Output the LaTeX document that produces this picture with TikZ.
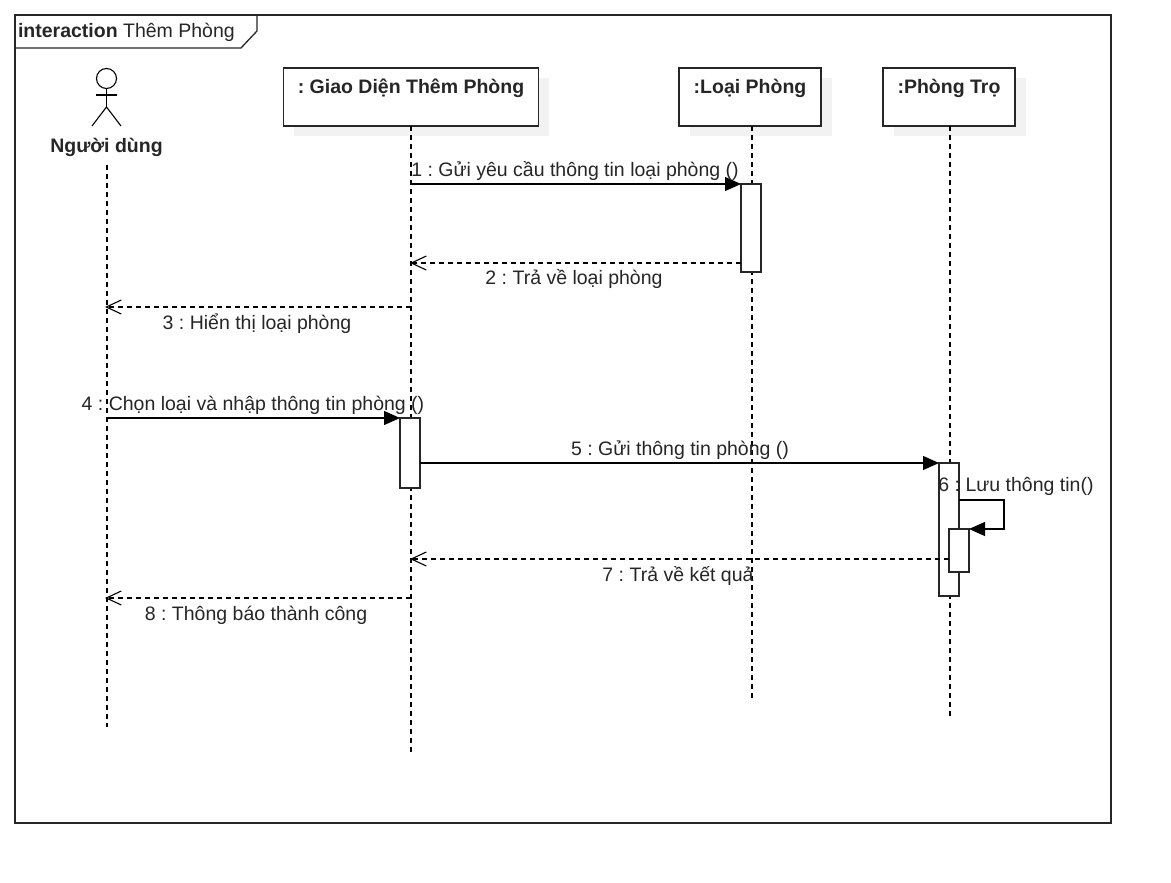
\documentclass[tikz,border=0pt]{standalone}
\usepackage{fontspec}
\setmainfont{Liberation Sans}
\usetikzlibrary{arrows.meta}
\definecolor{ink}{HTML}{262626}
\definecolor{shade}{HTML}{F2F2F2}
\tikzset{
  every node/.style={inner sep=0pt,outer sep=0pt},
  frameline/.style={draw=ink,line width=1.3pt},
  headbox/.style={draw=ink,fill=white,line width=1.3pt,minimum height=58pt},
  headshade/.style={fill=shade,minimum height=58pt},
  activation/.style={draw=ink,fill=white,line width=1.3pt,minimum width=20pt},
  lifeline/.style={draw=black,line width=1.1pt,dash pattern=on 5pt off 4pt},
  msgcall/.style={draw=black,line width=1.2pt,-{Triangle[length=16pt,width=14pt]}},
  msgreply/.style={draw=black,line width=1.1pt,dash pattern=on 5pt off 4pt,-{Straight Barb[length=15pt,width=14pt]}},
  msglabel/.style={font=\fontsize{19.5}{24}\selectfont\frenchspacing,text=ink,anchor=base},
  titlelabel/.style={font=\fontsize{19.5}{24}\selectfont\bfseries\frenchspacing,text=ink,anchor=base},
  stick/.style={draw=black,line width=1.1pt}
}
\begin{document}
\begin{tikzpicture}[x=1pt,y=-1pt]
\useasboundingbox (0,0) rectangle (1171,883);
\fill[white] (0,0) rectangle (1171,883);
% frame
\draw[frameline] (15,15) rectangle (1111,823);
\draw[frameline] (15,48) -- (241,48) -- (257,31) -- (257,15);
\node[anchor=base west,font=\fontsize{19.5}{24}\selectfont\frenchspacing,text=ink] (frametitle) at (18,38) {\textbf{interaction} Thêm Phòng};
% actor
\draw[stick] (106.5,78.5) circle (10);
\draw[stick] (106.5,88.5) -- (106.5,107);
\draw[stick] (96,95) -- (117,95);
\draw[stick] (92,126) -- (106.5,107) -- (121,126);
\node[titlelabel] (actor) at (106.5,153) {Người dùng};
% shadows
\node[headshade,minimum width=255pt] at (421.5,107) {};
\node[headshade,minimum width=142pt] at (761,107) {};
\node[headshade,minimum width=132pt] at (960,107) {};
% heads
\node[headbox,minimum width=255pt] (ui) at (411,97) {};
\node[headbox,minimum width=142pt] (type) at (750,97) {};
\node[headbox,minimum width=132pt] (room) at (949,97) {};
\node[titlelabel] (uit) at (411,93) {: Giao Diện Thêm Phòng};
\node[titlelabel] (typet) at (750,93) {:Loại Phòng};
\node[titlelabel] (roomt) at (949,93) {:Phòng Trọ};
% lifelines
\coordinate (actortop) at (107,165);
\coordinate (actorend) at (107,727);
\coordinate (uitop) at (411,126);
\coordinate (uiend) at (411,752);
\coordinate (typetop) at (752,126);
\coordinate (typeend) at (752,700);
\coordinate (roomtop) at (950,126);
\coordinate (roomend) at (950,716);
\draw[lifeline] (actortop) -- (actorend);
\draw[lifeline] (uitop) -- (uiend);
\draw[lifeline] (typetop) -- (typeend);
\draw[lifeline] (roomtop) -- (roomend);
% activations
\node[activation,minimum height=88pt] (a1) at (751,228) {};
\node[activation,minimum height=70pt] (a2) at (410,453) {};
\node[activation,minimum height=133pt] (a3) at (949,529.5) {};
\node[activation,minimum height=43pt] (a4) at (959,550.5) {};
% messages
\draw[msgcall] (uitop |- a1.north west) -- (a1.north west);
\path (a1.west) ++(0,35) coordinate (m2);
\draw[msgreply] (m2) -- ([xshift=-1pt]uitop |- m2);
\coordinate (m3) at (411,307);
\draw[msgreply] (m3) -- ([xshift=-2pt]actortop |- m3);
\draw[msgcall] (actortop |- a2.north west) -- (a2.north west);
\path (a2.east) ++(0,10) coordinate (m5);
\draw[msgcall] (m5) -- (m5 -| a3.west) coordinate (m5end);
\coordinate (m6a) at (959,500);
\coordinate (m6b) at (1004,500);
\draw[msgcall] (m6a) -- (m6b) |- (a4.north east);
\path (a4.west) ++(0,8.5) coordinate (m7);
\draw[msgreply] (m7) -- ([xshift=-1pt]uitop |- m7);
\coordinate (m8) at (411,598);
\draw[msgreply] (m8) -- ([xshift=-2pt]actortop |- m8);
% labels
\node[msglabel] (l1) at (575,176) {1 : Gửi yêu cầu thông tin loại phòng ()};
\node[msglabel] (l2) at (574,284) {2 : Trả về loại phòng};
\node[msglabel] (l3) at (257,329) {3 : Hiển thị loại phòng};
\node[msglabel] (l4) at (253,410) {4 : Chọn loại và nhập thông tin phòng ()};
\node[msglabel] (l5) at (680,455) {5 : Gửi thông tin phòng ()};
\node[msglabel] (l6) at (1016,491) {6 : Lưu thông tin()};
\node[msglabel] (l7) at (678,581) {7 : Trả về kết quả};
\node[msglabel] (l8) at (256,620) {8 : Thông báo thành công};
\end{tikzpicture}
\end{document}
